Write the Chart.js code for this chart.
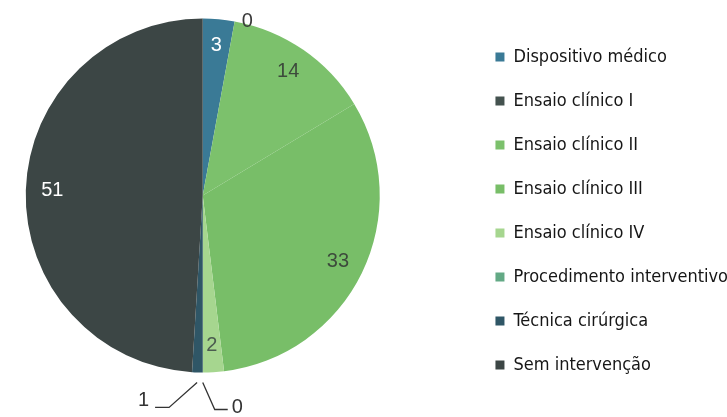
<!DOCTYPE html>
<html>
<head>
<meta charset="utf-8">
<script src="https://cdn.jsdelivr.net/npm/chart.js@4/dist/chart.umd.min.js"></script>
<style>
html, body { margin: 0; padding: 0; background: #fff; }
#wrap { width: 727px; height: 417px; }
</style>
</head>
<body>
<div id="wrap"><canvas id="pieChart"></canvas></div>
<script>
var categories = ["Dispositivo médico", "Ensaio clínico I", "Ensaio clínico II", "Ensaio clínico III",
    "Ensaio clínico IV", "Procedimento interventivo", "Técnica cirúrgica", "Sem intervenção"];
var counts = [3, 0, 14, 33, 2, 0, 1, 51];
var sliceColors = ["#3a7a96", "#44524f", "#7cc16c", "#78be68", "#a6d68f", "#63a985", "#2f5666", "#3c4645"];
var labelColors = ["#ffffff", "#3a3a3a", "#3d4a3c", "#3d4a3c", "#4b5c50", "#333333", "#333333", "#ffffff"];

// keeps the pie clear of the legend and of the bottom labels
var areaTrim = {
    id: 'areaTrim',
    afterLayout: function (chart, args, opts) {
        var a = chart.chartArea;
        a.right -= opts.right;
        a.bottom -= opts.bottom;
        a.width = a.right - a.left;
        a.height = a.bottom - a.top;
    }
};

// draws the value of each slice, inside, on the edge or with a leader line
var sliceLabels = {
    id: 'sliceLabels',
    afterDatasetsDraw: function (chart, args, opts) {
        var ctx = chart.ctx;
        var meta = chart.getDatasetMeta(0);
        ctx.save();
        ctx.font = opts.size + 'px ' + opts.family;
        meta.data.forEach(function (arc, i) {
            var p = arc.getProps(['x', 'y', 'startAngle', 'endAngle', 'outerRadius'], true);
            var mid = (p.startAngle + p.endAngle) / 2;
            var cos = Math.cos(mid), sin = Math.sin(mid);
            var text = String(counts[i]);
            var mode = opts.modes[i] || 'inside';
            ctx.fillStyle = labelColors[i];
            if (mode === 'inside') {
                var rr = p.outerRadius * opts.insideRatio;
                ctx.textAlign = 'center';
                ctx.textBaseline = 'middle';
                ctx.fillText(text, p.x + cos * rr, p.y + sin * rr);
            } else if (mode === 'edge') {
                ctx.textAlign = 'left';
                ctx.textBaseline = 'middle';
                ctx.fillText(text, p.x + cos * p.outerRadius + opts.edgeGap, p.y + sin * p.outerRadius);
            } else {
                var ld = opts.leaders[mode];
                var sx = p.x + cos * (p.outerRadius + ld.start);
                var sy = p.y + sin * (p.outerRadius + ld.start);
                var ex = sx + ld.dx, ey = sy + ld.dy;
                var hx = ex + ld.hx;
                ctx.strokeStyle = opts.leaderColor;
                ctx.lineWidth = 1.3;
                ctx.beginPath();
                ctx.moveTo(sx, sy);
                ctx.lineTo(ex, ey);
                ctx.lineTo(hx, ey);
                ctx.stroke();
                ctx.textAlign = ld.hx < 0 ? 'right' : 'left';
                ctx.textBaseline = 'alphabetic';
                ctx.fillText(text, hx + (ld.hx < 0 ? -ld.gap : ld.gap), ey + ld.textDy);
            }
        });
        ctx.restore();
    }
};

var chart = new Chart(document.getElementById('pieChart'), {
    type: 'pie',
    data: {
        labels: categories,
        datasets: [{
            data: counts,
            backgroundColor: sliceColors,
            borderWidth: 0,
            radius: 177
        }]
    },
    options: {
        responsive: true,
        maintainAspectRatio: false,
        animation: false,
        layout: { padding: { left: 0, right: -11, top: 0, bottom: 0 } },
        plugins: {
            tooltip: { enabled: false },
            areaTrim: { right: 64, bottom: 26 },
            legend: {
                position: 'right',
                align: 'center',
                title: { display: true, text: '', padding: 0, font: { size: 5, lineHeight: 1 } },
                labels: {
                    boxWidth: 9,
                    boxHeight: 9,
                    padding: 26,
                    color: '#161616',
                    font: { family: "'DejaVu Sans Condensed', 'Liberation Sans Narrow', 'DejaVu Sans', sans-serif", size: 18 }
                }
            },
            sliceLabels: {
                family: "'Liberation Sans', Arial, sans-serif",
                size: 20,
                insideRatio: 0.85,
                edgeGap: 7,
                leaderColor: '#333333',
                modes: ['inside', 'edge', 'inside', 'inside', 'inside', 'right', 'left', 'inside'],
                leaders: {
                    right: { start: 10, dx: 12, dy: 27, hx: 13, gap: 4, textDy: 3 },
                    left: { start: 10, dx: -28, dy: 25, hx: -14, gap: 6, textDy: -1 }
                }
            }
        }
    },
    plugins: [areaTrim, sliceLabels]
});
</script>
</body>
</html>
